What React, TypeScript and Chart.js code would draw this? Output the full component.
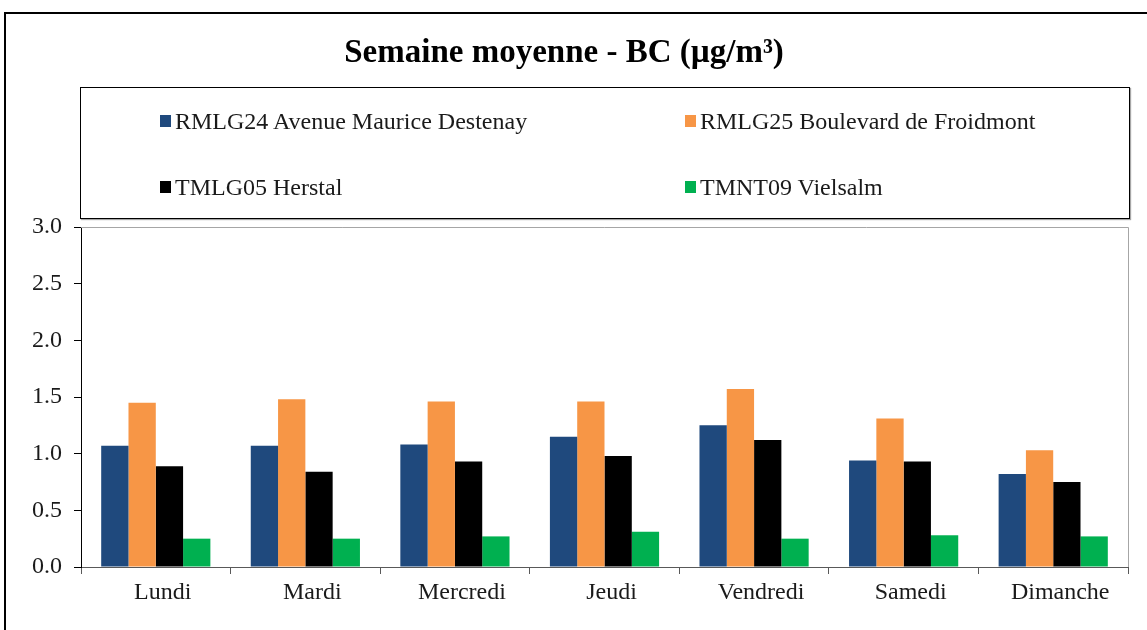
import React, { useEffect, useRef } from "react";
import { Chart, registerables } from "chart.js";

Chart.register(...registerables);

const TITLE = "Semaine moyenne - BC (µg/m³)";
const categories = ["Lundi", "Mardi", "Mercredi", "Jeudi", "Vendredi", "Samedi", "Dimanche"];
const seriesNames = [
  "RMLG24 Avenue Maurice Destenay",
  "RMLG25 Boulevard de Froidmont",
  "TMLG05 Herstal",
  "TMNT09 Vielsalm",
];
const seriesColors = ["#1F497D", "#F79646", "#000000", "#00B050"];
const rmlg24 = [1.07, 1.07, 1.08, 1.15, 1.25, 0.94, 0.82];
const rmlg25 = [1.45, 1.48, 1.46, 1.46, 1.57, 1.31, 1.03];
const tmlg05 = [0.89, 0.84, 0.93, 0.98, 1.12, 0.93, 0.75];
const tmnt09 = [0.25, 0.25, 0.27, 0.31, 0.25, 0.28, 0.27];
const seriesValues = [rmlg24, rmlg25, tmlg05, tmnt09];
const yTicks = [0, 0.5, 1.0, 1.5, 2.0, 2.5, 3.0];

const FONT = "'Liberation Serif', 'Times New Roman', serif";

const plotBorder = {
  id: "plotBorder",
  beforeDatasetsDraw(chart: any) {
    const { ctx, chartArea } = chart;
    ctx.save();
    ctx.strokeStyle = "#a6a6a6";
    ctx.lineWidth = 1;
    ctx.beginPath();
    ctx.moveTo(chartArea.left, Math.floor(chartArea.top) + 0.5);
    ctx.lineTo(Math.floor(chartArea.right) + 0.5, Math.floor(chartArea.top) + 0.5);
    ctx.lineTo(Math.floor(chartArea.right) + 0.5, chartArea.bottom);
    ctx.stroke();
    ctx.restore();
  },
};

export default function App() {
  const ref = useRef<HTMLCanvasElement | null>(null);

  useEffect(() => {
    if (!ref.current) return;
    const chart = new Chart(ref.current, {
      type: "bar",
      data: {
        labels: categories,
        datasets: seriesNames.map((name, i) => ({
          label: name,
          data: seriesValues[i],
          backgroundColor: seriesColors[i],
          borderWidth: 0,
          categoryPercentage: 0.73,
          barPercentage: 1.0,
        })),
      },
      options: {
        responsive: false,
        animation: false,
        layout: { padding: { left: 0, right: 19, top: 0, bottom: 0 } },
        plugins: {
          legend: { display: false },
          tooltip: { enabled: false },
          title: {
            display: true,
            text: TITLE,
            color: "#000",
            font: { family: FONT, size: 33, weight: "bold", lineHeight: 1.2 },
            padding: { top: 34, bottom: 153.4 },
          },
        },
        scales: {
          x: {
            grid: {
              offset: true,
              drawOnChartArea: false,
              drawTicks: true,
              tickLength: 7,
              color: "#595959",
            },
            border: { color: "#595959", width: 1 },
            ticks: {
              color: "#1a1a1a",
              font: { family: FONT, size: 24 },
              padding: 4,
              labelOffset: 7,
              maxRotation: 0,
            },
            afterFit: (scale: any) => {
              scale.height = 63;
            },
          },
          y: {
            min: 0,
            max: 3,
            afterBuildTicks: (scale: any) => {
              scale.ticks = yTicks.map((v) => ({ value: v }));
            },
            grid: {
              drawOnChartArea: false,
              drawTicks: true,
              tickLength: 7,
              color: "#000",
            },
            border: { color: "#000", width: 1 },
            ticks: {
              color: "#1a1a1a",
              font: { family: FONT, size: 24 },
              padding: 12,
              callback: (v: any) => Number(v).toFixed(1),
            },
            afterFit: (scale: any) => {
              scale.width = 81;
            },
          },
        },
      },
      plugins: [plotBorder],
    });
    return () => chart.destroy();
  }, []);

  const legendPos = [
    { left: 160, top: 121 },
    { left: 685, top: 121 },
    { left: 160, top: 187 },
    { left: 685, top: 187 },
  ];

  return (
    <div
      style={{
        position: "absolute",
        left: 0,
        top: 0,
        width: 1147,
        height: 630,
        overflow: "hidden",
        background: "#fff",
      }}
    >
      <div
        style={{
          position: "absolute",
          left: 4,
          top: 12,
          width: 1300,
          height: 800,
          borderTop: "2px solid #000",
          borderLeft: "2px solid #000",
          boxSizing: "border-box",
        }}
      />
      <canvas ref={ref} width={1147} height={630} style={{ position: "absolute", left: 0, top: 0 }} />
      <div
        style={{
          position: "absolute",
          left: 80,
          top: 87,
          width: 1050,
          height: 132,
          border: "1px solid #000",
          boxSizing: "border-box",
          boxShadow: "1px 1px 1px rgba(0,0,0,0.35)",
        }}
      />
      {seriesNames.map((name, i) => (
        <div
          key={name}
          style={{
            position: "absolute",
            left: legendPos[i].left,
            top: legendPos[i].top - 14,
            height: 28,
            display: "flex",
            alignItems: "center",
            fontFamily: FONT,
            fontSize: 24,
            color: "#1a1a1a",
            whiteSpace: "nowrap",
          }}
        >
          <span
            style={{
              display: "inline-block",
              width: 11,
              height: 12,
              background: seriesColors[i],
              marginRight: 4,
            }}
          />
          {name}
        </div>
      ))}
    </div>
  );
}
